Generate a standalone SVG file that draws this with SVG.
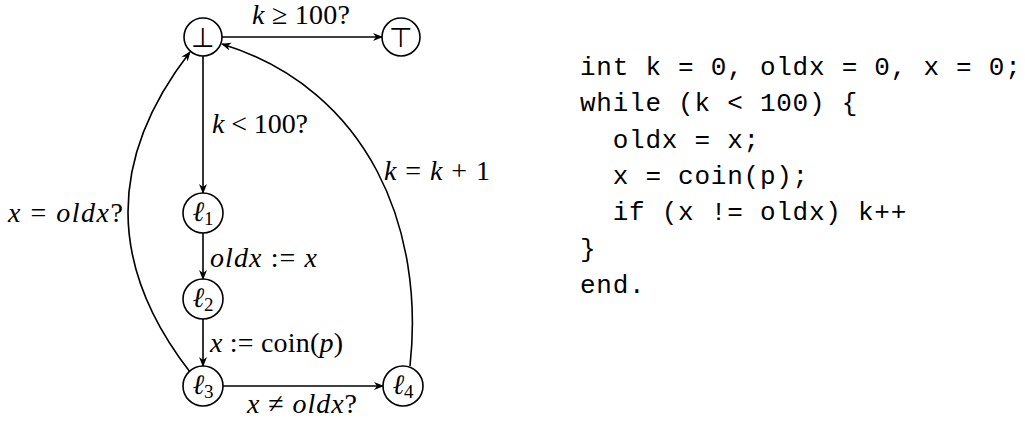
<svg xmlns="http://www.w3.org/2000/svg" width="1025" height="423" viewBox="0 0 1025 423">
<style>
.node{fill:#fff;stroke:#000;stroke-width:1.6}
.edge{fill:none;stroke:#000;stroke-width:1.6;marker-end:url(#ah)}
.m{font-family:"Liberation Serif","DejaVu Serif",serif;font-size:28px;fill:#000}
.i{font-style:italic}
.sub{font-size:19px}
.sym{font-family:"DejaVu Sans",sans-serif;font-size:27px;font-weight:300}
.code{font-family:"Liberation Mono","DejaVu Sans Mono",monospace;font-size:26px;letter-spacing:0.75px;fill:#000;white-space:pre}
</style>
<defs>
<marker id="ah" markerWidth="10" markerHeight="10" refX="9" refY="5" orient="auto" markerUnits="userSpaceOnUse">
<path d="M0,1 L10,5 L0,9 L3,5 z" fill="#000"/>
</marker>
</defs>
<rect width="1025" height="423" fill="#fff"/>
<g id="connectors">
<line class="edge" x1="222" y1="37" x2="382" y2="37"/>
<line class="edge" x1="203" y1="56" x2="203" y2="193"/>
<line class="edge" x1="203" y1="233" x2="203" y2="279"/>
<line class="edge" x1="203" y1="319" x2="203" y2="366"/>
<line class="edge" x1="223" y1="386" x2="383" y2="386"/>
<path class="edge" d="M190,372 Q66,212 190,52"/>
<path class="edge" d="M410,366 C425,230 370,90 222,44"/>
</g>
<g id="edge-labels">
<text class="m" x="252" y="24" textLength="98" lengthAdjust="spacing"><tspan class="i">k</tspan> ≥ 100?</text>
<text class="m" x="212" y="133" textLength="96" lengthAdjust="spacing"><tspan class="i">k</tspan> &lt; 100?</text>
<text class="m" x="384" y="180" textLength="106" lengthAdjust="spacing"><tspan class="i">k</tspan> = <tspan class="i">k</tspan> + 1</text>
<text class="m" x="8" y="222" textLength="115" lengthAdjust="spacing"><tspan class="i">x</tspan> = <tspan class="i">oldx</tspan>?</text>
<text class="m" x="210" y="267" textLength="107" lengthAdjust="spacing"><tspan class="i">oldx</tspan> := <tspan class="i">x</tspan></text>
<text class="m" x="210" y="352" textLength="133" lengthAdjust="spacing"><tspan class="i">x</tspan> := coin(<tspan class="i">p</tspan>)</text>
<text class="m" x="247" y="413" textLength="110" lengthAdjust="spacing"><tspan class="i">x</tspan> ≠ <tspan class="i">oldx</tspan>?</text>
</g>
<g id="n-bot"><circle class="node" cx="203" cy="37" r="19"/><text class="m sym" x="203" y="47" text-anchor="middle">⊥</text></g>
<g id="n-top"><circle class="node" cx="401" cy="37" r="19"/><text class="m sym" x="401" y="47" text-anchor="middle">⊤</text></g>
<g id="n-l1"><circle class="node" cx="203" cy="213" r="20"/><text class="m" x="203" y="221" text-anchor="middle"><tspan class="i">ℓ</tspan><tspan class="sub" dy="4">1</tspan></text></g>
<g id="n-l2"><circle class="node" cx="203" cy="299" r="20"/><text class="m" x="203" y="307" text-anchor="middle"><tspan class="i">ℓ</tspan><tspan class="sub" dy="4">2</tspan></text></g>
<g id="n-l3"><circle class="node" cx="203" cy="386" r="20"/><text class="m" x="203" y="394" text-anchor="middle"><tspan class="i">ℓ</tspan><tspan class="sub" dy="4">3</tspan></text></g>
<g id="n-l4"><circle class="node" cx="403" cy="386" r="20"/><text class="m" x="403" y="394" text-anchor="middle"><tspan class="i">ℓ</tspan><tspan class="sub" dy="4">4</tspan></text></g>
<g id="code">
<text class="code" x="580" y="75">int k = 0, oldx = 0, x = 0;</text>
<text class="code" x="580" y="111">while (k &lt; 100) {</text>
<text class="code" x="580" y="148">  oldx = x;</text>
<text class="code" x="580" y="184">  x = coin(p);</text>
<text class="code" x="580" y="220">  if (x != oldx) k++</text>
<text class="code" x="580" y="257">}</text>
<text class="code" x="580" y="293">end.</text>
</g>
</svg>
